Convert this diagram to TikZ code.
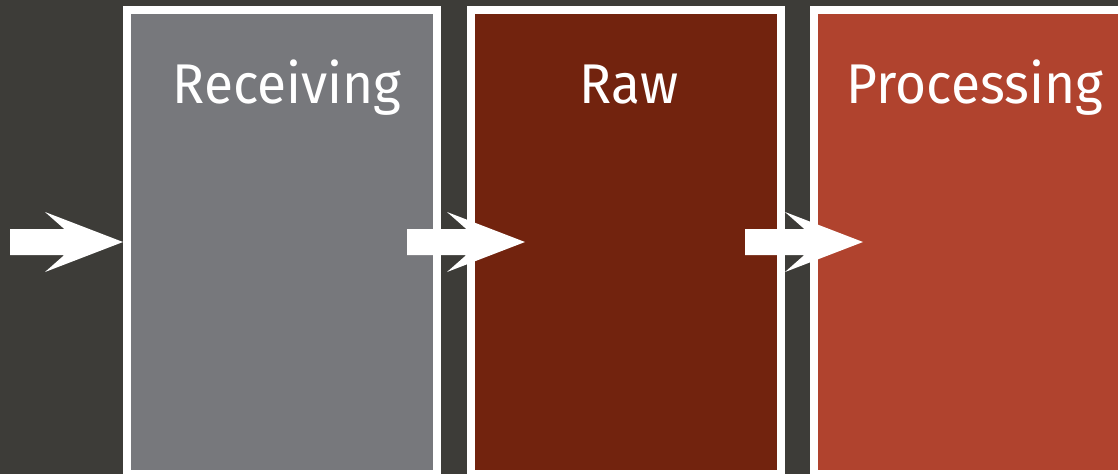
\documentclass[tikz,border=0pt]{standalone}
\usepackage{fontspec}
\setmainfont{Fira Sans}[FakeStretch=0.95]
\usetikzlibrary{calc}

\definecolor{bgdark}{HTML}{3D3C38}
\definecolor{stagegray}{HTML}{77787C}
\definecolor{stageraw}{HTML}{72230E}
\definecolor{stageproc}{HTML}{B0432E}

% block arrow from #1 (stem start) to #2 (tip)
\newcommand{\flowarrow}[2]{%
	\fill[white] ($(#1)+(0,13)$) -- ($(#2)+(-58.7,13)$) -- ($(#2)+(-78,30)$) -- (#2)
		-- ($(#2)+(-78,-30)$) -- ($(#2)+(-58.7,-13)$) -- ($(#1)+(0,-13)$) -- cycle;
}

\begin{document}
\begin{tikzpicture}[x=1pt,y=-1pt,
	stage/.style={draw=white, line width=8pt, minimum width=310pt, minimum height=464pt, inner sep=0pt},
	title/.style={text=white, anchor=base, font=\fontsize{56}{68}\selectfont}]

	\fill[bgdark] (0,0) rectangle (1118,474);
	\useasboundingbox (0,0) rectangle (1118,474);

	\node[stage, fill=stagegray] (receiving) at (282,242) {};
	\node[stage, fill=stageraw] (raw) at (626,242) {};
	\node[stage, fill=stageproc] (processing) at (969,242) {};

	\node[title] (receivingtitle) at (287,103) {Receiving};
	\node[title] (rawtitle) at (629,103) {Raw};
	\node[title] (processingtitle) at (975,103) {Processing};

	% arrows
	\coordinate (in) at (10,242);
	\coordinate (a2) at (407,242);
	\coordinate (a3) at (745,242);
	\coordinate (t2) at ($(raw.west)+(58,0)$);
	\coordinate (t3) at ($(processing.west)+(53,0)$);

	\flowarrow{in}{receiving.west}
	\flowarrow{a2}{t2}
	\flowarrow{a3}{t3}

\end{tikzpicture}
\end{document}
